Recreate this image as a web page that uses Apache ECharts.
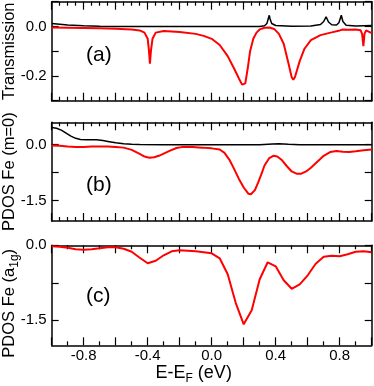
<!DOCTYPE html>
<html><head><meta charset="utf-8">
<script src="https://cdn.jsdelivr.net/npm/echarts@6/dist/echarts.min.js"></script>
<style>html,body{margin:0;padding:0;background:#fff}#c{width:374px;height:386px}</style>
</head><body><div id="c"></div>
<script>
// Panel (a) Transmission
const transBlack = [[-1,0.012],[-0.95,0.009],[-0.9,0.006],[-0.8,0.003],[-0.7,0.001],[-0.6,0.0],[0.3,0.0],[0.33,0.003],[0.345,0.012],[0.353,0.03],[0.36,0.045],[0.365,0.03],[0.375,0.012],[0.4,0.004],[0.5,0.001],[0.62,0.002],[0.68,0.008],[0.7,0.02],[0.715,0.039],[0.73,0.018],[0.75,0.007],[0.78,0.006],[0.795,0.015],[0.81,0.045],[0.82,0.02],[0.84,0.005],[0.9,0.002],[1.0,0.004]];
const transRed = [[-1,-0.004],[-0.9,-0.005],[-0.8,-0.006],[-0.7,-0.007],[-0.6,-0.009],[-0.5,-0.012],[-0.45,-0.016],[-0.42,-0.025],[-0.4,-0.05],[-0.392,-0.1],[-0.386,-0.15],[-0.38,-0.1],[-0.37,-0.05],[-0.35,-0.025],[-0.3,-0.018],[-0.2,-0.022],[-0.1,-0.03],[-0.05,-0.038],[0,-0.05],[0.05,-0.075],[0.1,-0.12],[0.14,-0.17],[0.17,-0.21],[0.19,-0.235],[0.2,-0.242],[0.21,-0.23],[0.225,-0.17],[0.24,-0.1],[0.26,-0.05],[0.28,-0.025],[0.3,-0.012],[0.33,-0.005],[0.36,-0.004],[0.39,-0.01],[0.42,-0.03],[0.45,-0.07],[0.48,-0.15],[0.5,-0.205],[0.51,-0.215],[0.52,-0.205],[0.55,-0.14],[0.58,-0.09],[0.62,-0.055],[0.68,-0.035],[0.75,-0.024],[0.8,-0.016],[0.82,-0.012],[0.85,-0.013],[0.9,-0.012],[0.93,-0.015],[0.94,-0.03],[0.948,-0.08],[0.955,-0.03],[0.965,-0.016],[1.0,-0.027]];
// Panel (b) PDOS Fe (m=0)
const pdosBlack = [[-1,0.46],[-0.97,0.44],[-0.94,0.39],[-0.91,0.31],[-0.88,0.23],[-0.85,0.17],[-0.82,0.14],[-0.78,0.13],[-0.72,0.13],[-0.68,0.11],[-0.64,0.08],[-0.6,0.05],[-0.55,0.025],[-0.5,0.01],[-0.45,0.005],[-0.3,0.0],[0.3,0.0],[0.38,0.02],[0.42,0.025],[0.48,0.01],[0.55,0.0],[1,0.0]];
const pdosRed = [[-1,-0.02],[-0.95,-0.03],[-0.9,-0.05],[-0.85,-0.06],[-0.8,-0.06],[-0.75,-0.05],[-0.7,-0.05],[-0.65,-0.05],[-0.6,-0.06],[-0.55,-0.08],[-0.5,-0.14],[-0.45,-0.25],[-0.42,-0.32],[-0.39,-0.35],[-0.36,-0.34],[-0.33,-0.3],[-0.3,-0.24],[-0.26,-0.16],[-0.22,-0.09],[-0.18,-0.06],[-0.12,-0.065],[-0.06,-0.08],[0,-0.1],[0.05,-0.13],[0.08,-0.22],[0.11,-0.4],[0.14,-0.65],[0.17,-0.92],[0.2,-1.15],[0.23,-1.32],[0.245,-1.33],[0.27,-1.22],[0.29,-1.02],[0.31,-0.8],[0.33,-0.56],[0.36,-0.36],[0.385,-0.3],[0.41,-0.32],[0.44,-0.42],[0.47,-0.58],[0.5,-0.72],[0.53,-0.78],[0.56,-0.78],[0.59,-0.72],[0.62,-0.62],[0.66,-0.46],[0.7,-0.3],[0.74,-0.2],[0.78,-0.17],[0.82,-0.19],[0.86,-0.2],[0.9,-0.18],[0.95,-0.15],[1,-0.13]];
// Panel (c) PDOS Fe (a1g)
const a1gE = [-1,-0.95,-0.9,-0.85,-0.8,-0.75,-0.7,-0.65,-0.6,-0.55,-0.5,-0.45,-0.4,-0.35,-0.3,-0.25,-0.2,-0.15,-0.1,-0.05,0,0.05,0.1,0.15,0.2,0.25,0.3,0.35,0.4,0.45,0.5,0.55,0.6,0.65,0.7,0.75,0.8,0.85,0.9,0.95,1];
const a1gRed = [-0.02,-0.03,-0.05,-0.08,-0.09,-0.08,-0.06,-0.04,-0.04,-0.07,-0.13,-0.25,-0.36,-0.31,-0.2,-0.12,-0.1,-0.11,-0.12,-0.14,-0.16,-0.26,-0.58,-1.15,-1.58,-1.3,-0.68,-0.34,-0.42,-0.7,-0.87,-0.78,-0.6,-0.37,-0.23,-0.21,-0.22,-0.18,-0.13,-0.12,-0.14];

const xLabC = [-0.8, -0.4, 0, 0.4, 0.8];
const yLabA = [0, -0.2], yTickA = [0.1, 0, -0.1, -0.2, -0.3];
const yLabB = [0, -1.5], yTickB = [0, -0.75, -1.5];
const yLabC = [0, -1.5], yTickC = [0, -0.75, -1.5];

const FONT = 'Liberation Sans, Arial, Helvetica, sans-serif';
const lineC = '#000';
const grids = [
  {left: 51.7, right: 2.3, top: 1.7, height: 99, outerBoundsMode: 'none', containLabel: false},
  {left: 51.7, right: 2.3, top: 122.3, height: 98.7, outerBoundsMode: 'none', containLabel: false},
  {left: 51.7, right: 2.3, top: 245.3, height: 100, outerBoundsMode: 'none', containLabel: false}
];
function nameStyle(fs, pad) {
  return {color: '#000', fontFamily: FONT, fontSize: fs, padding: pad || 0,
    rich: {n: {fontSize: fs, fontFamily: FONT, color: '#000', lineHeight: 22},
           s: {fontSize: 12, fontFamily: FONT, color: '#000', verticalAlign: 'bottom', lineHeight: 12, padding: [6,0,0,0]}}};
}
function xAx(gi, pos, minorSplit, showLabel, name) {
  const ax = {
    type: 'value', gridIndex: gi, position: pos, min: -1, max: 1, interval: 0.2,
    axisLine: {onZero: false, lineStyle: {color: lineC, width: 1.5}},
    axisTick: {inside: true, length: 8, lineStyle: {color: lineC, width: 1.2}},
    minorTick: {show: true, splitNumber: minorSplit, length: 4, lineStyle: {color: lineC, width: 1.2}},
    splitLine: {show: false},
    axisLabel: {show: showLabel, margin: 3, fontSize: 15, color: '#000', fontFamily: FONT,
      formatter: v => v.toFixed(1)},
    name: name || '', nameLocation: 'middle', nameGap: 17, nameMoveOverlap: false,
    nameTextStyle: nameStyle(18, [0, 36, 0, 0])
  };
  if (showLabel) ax.axisLabel.customValues = xLabC;
  return ax;
}
function yAx(gi, pos, min, max, labs, ticks, showLabel, name, pad) {
  return {
    type: 'value', gridIndex: gi, position: pos, min: min, max: max,
    axisLine: {onZero: false, lineStyle: {color: lineC, width: 1.5}},
    axisTick: {inside: true, length: 7, customValues: ticks, lineStyle: {color: lineC, width: 1.2}},
    splitLine: {show: false},
    axisLabel: {show: showLabel, customValues: labs, margin: 5, fontSize: 15, color: '#000', fontFamily: FONT,
      formatter: v => v.toFixed(1)},
    name: name || '', nameLocation: 'middle', nameRotate: 90, nameGap: 31, nameMoveOverlap: false,
    nameTextStyle: nameStyle(16.5, pad)
  };
}
const option = {
  animation: false,
  backgroundColor: '#fff',
  grid: grids,
  xAxis: [
    xAx(0, 'bottom', 4, false), xAx(0, 'top', 4, false),
    xAx(1, 'bottom', 4, false), xAx(1, 'top', 4, false),
    xAx(2, 'bottom', 2, true, '{n|E-E}{s|F}{n| (eV)}'), xAx(2, 'top', 2, false)
  ],
  yAxis: [
    yAx(0, 'left', -0.3, 0.1, yLabA, yTickA, true, '{n|Transmission}'), yAx(0, 'right', -0.3, 0.1, yLabA, yTickA, false),
    yAx(1, 'left', -2.05, 0.6, yLabB, yTickB, true, '{n|PDOS Fe (m=0)}'), yAx(1, 'right', -2.05, 0.6, yLabB, yTickB, false),
    yAx(2, 'left', -2, 0, yLabC, yTickC, true, '{n|PDOS Fe (a}{s|1g}{n|)}', [0, 16, 0, 0]), yAx(2, 'right', -2, 0, yLabC, yTickC, false)
  ],
  graphic: [
    {type: 'text', left: 86, top: 45, style: {text: '(a)', fontSize: 21, fontFamily: FONT, fill: '#000'}},
    {type: 'text', left: 86, top: 175, style: {text: '(b)', fontSize: 21, fontFamily: FONT, fill: '#000'}},
    {type: 'text', left: 86, top: 286, style: {text: '(c)', fontSize: 21, fontFamily: FONT, fill: '#000'}}
  ],
  series: [
    {type: 'line', xAxisIndex: 0, yAxisIndex: 0, data: transRed, showSymbol: false, lineStyle: {color: '#ff0000', width: 2}, z: 2},
    {type: 'line', xAxisIndex: 0, yAxisIndex: 0, data: transBlack, showSymbol: false, lineStyle: {color: '#000', width: 1.5}, z: 3},
    {type: 'line', xAxisIndex: 2, yAxisIndex: 2, data: pdosRed, showSymbol: false, lineStyle: {color: '#ff0000', width: 2}, z: 2},
    {type: 'line', xAxisIndex: 2, yAxisIndex: 2, data: pdosBlack, showSymbol: false, lineStyle: {color: '#000', width: 1.5}, z: 3},
    {type: 'line', xAxisIndex: 4, yAxisIndex: 4, data: a1gE.map((e, i) => [e, a1gRed[i]]), showSymbol: false, lineStyle: {color: '#ff0000', width: 2}, z: 2}
  ]
};
const chart = echarts.init(document.getElementById('c'), null, {renderer: 'canvas'});
chart.setOption(option);
</script></body></html>
